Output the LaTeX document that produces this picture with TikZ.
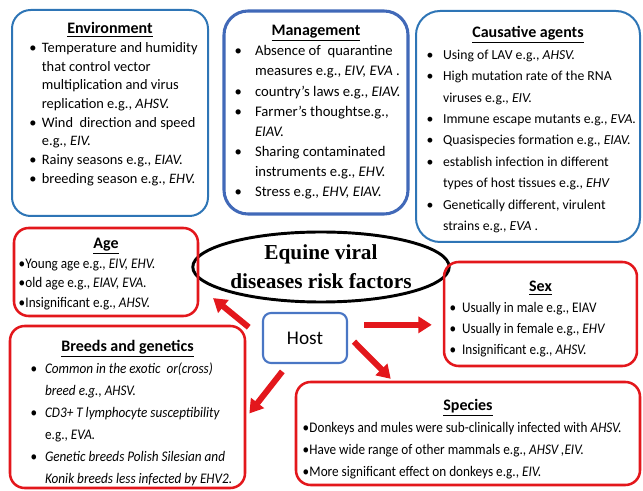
\documentclass[tikz,border=0pt]{standalone}
\usepackage{fontspec}
\setmainfont{Carlito}
\newfontfamily\narrowfont{Carlito}[FakeStretch=0.9]
\newfontfamily\headfont{Liberation Serif}
\usetikzlibrary{shapes.geometric,arrows.meta}

\definecolor{envblue}{HTML}{2E75B6}
\definecolor{mgmtblue}{HTML}{4169B8}
\definecolor{hostblue}{HTML}{4A76C4}
\definecolor{riskred}{HTML}{E3171C}

\newlength\rfind
\newcommand{\rfhead}[2]{\par\noindent\makebox[\linewidth]{\rule{0pt}{#1}\rmfamily\fontsize{12}{14}\selectfont\bfseries\underline{#2}}}
\newcommand{\rfitem}[1]{\par\noindent\mbox{\makebox[\rfind][l]{\textbullet}#1}}
\newcommand{\rfcont}[1]{\par\noindent\mbox{\hspace*{\rfind}#1}}

\begin{document}
\begin{tikzpicture}[x=0.75pt, y=-0.75pt,
                    factor/.style={draw, rounded corners=14pt, line width=1.5pt, inner ysep=0pt},
                    bluebox/.style={factor, draw=envblue},
                    redbox/.style={factor, draw=riskred, line width=1.9pt, rounded corners=11pt},
                    riskarrow/.style={draw=riskred, line width=4.5pt, -{Triangle[length=10pt,width=12pt]}}]

  \useasboundingbox (0,0) rectangle (643,491);

  % top row
  \node[bluebox, inner xsep=13pt] (env) at (110,113)
    {\parbox[c][154.5pt][t]{121pt}{\fontsize{10.8}{14}\selectfont\setlength\rfind{9.4pt}%
      \rfhead{18pt}{Environment}
      \rfitem{Temperature and humidity}
      \rfcont{that control vector}
      \rfcont{multiplication and virus}
      \rfcont{replication e.g., \textit{AHSV.}}
      \rfitem{Wind\ \ direction and speed}
      \rfcont{e.g., \textit{EIV.}}
      \rfitem{Rainy seasons e.g., \textit{EIAV.}}
      \rfitem{breeding season e.g., \textit{EHV.}}}};

  \node[factor, draw=mgmtblue, line width=2.3pt, rounded corners=18pt, inner xsep=7.9pt] (mgmt) at (316,112.5)
    {\parbox[c][152.25pt][t]{122.2pt}{\fontsize{11}{15.1}\selectfont\setlength\rfind{15.4pt}%
      \rfhead{18.5pt}{Management}
      \rfitem{Absence of\ \ quarantine}
      \rfcont{measures e.g., \textit{EIV, EVA} .}
      \rfitem{country’s laws e.g., \textit{EIAV.}}
      \rfitem{Farmer’s thoughtse.g.,}
      \rfcont{\textit{EIAV.}}
      \rfitem{Sharing contaminated}
      \rfcont{instruments e.g., \textit{EHV.}}
      \rfitem{Stress e.g., \textit{EHV, EIAV.}}}};

  \node[bluebox, rounded corners=18pt, inner xsep=7.9pt] (cause) at (528,126.5)
    {\parbox[c][173.25pt][t]{152.2pt}{\fontsize{10.3}{16.1}\selectfont\setlength\rfind{12.4pt}%
      \rfhead{20pt}{Causative agents}
      \rfitem{Using of LAV e.g., \textit{AHSV.}}
      \rfitem{High mutation rate of the RNA}
      \rfcont{viruses e.g., \textit{EIV.}}
      \rfitem{Immune escape mutants e.g., \textit{EVA.}}
      \rfitem{Quasispecies formation e.g., \textit{EIAV.}}
      \rfitem{establish infection in different}
      \rfcont{types of host tissues e.g., \textit{EHV}}
      \rfitem{Genetically different, virulent}
      \rfcont{strains e.g., \textit{EVA} .}}};

  % centre
  \node[ellipse, draw, line width=2.2pt, minimum width=174pt, minimum height=52.5pt, inner sep=0pt,
        align=center, font=\headfont\bfseries\fontsize{16}{22}\selectfont] (title) at (321,267)
    {Equine viral\\diseases risk factors};

  \node[draw=hostblue, line width=1.6pt, rounded corners=6pt, minimum width=63pt, minimum height=37.5pt,
        font=\fontsize{14.5}{16}\selectfont] (host) at (305,338) {Host};

  % host factors
  \node[redbox, inner xsep=3.4pt] (age) at (106,272)
    {\parbox[c][66pt][t]{131.2pt}{\narrowfont\fontsize{11}{14.6}\selectfont\setlength\rfind{5.2pt}%
      \rfhead{15.75pt}{Age}
      \rfitem{Young age e.g., \textit{EIV, EHV.}}
      \rfitem{old age e.g., \textit{EIAV, EVA.}}
      \rfitem{Insignificant e.g., \textit{AHSV.}}}};

  \node[redbox, inner xsep=4.1pt] (sex) at (540.5,314)
    {\parbox[c][78pt][t]{136.5pt}{\narrowfont\fontsize{11}{15.75}\selectfont\setlength\rfind{9.4pt}%
      \rfhead{22.5pt}{Sex}
      \rfitem{Usually in male e.g., EIAV}
      \rfitem{Usually in female e.g., \textit{EHV}}
      \rfitem{Insignificant e.g., \textit{AHSV.}}}};

  \node[redbox, inner xsep=15.4pt] (breeds) at (127.5,407)
    {\parbox[c][121.5pt][t]{145.45pt}{\narrowfont\fontsize{11}{16.5}\selectfont\setlength\rfind{10.9pt}%
      \rfhead{19.5pt}{Breeds and genetics}
      \rfitem{\textit{Common in the exotic\ \ or(cross)}}
      \rfcont{\textit{breed e.g., AHSV.}}
      \rfitem{\textit{CD3+ T lymphocyte susceptibility}}
      \rfcont{e.g., \textit{EVA.}}
      \rfitem{\textit{Genetic breeds Polish Silesian and}}
      \rfcont{\textit{Konik breeds less infected by EHV2.}}}};

  \node[redbox, inner xsep=4.9pt] (species) at (468,433.5)
    {\parbox[c][77.25pt][t]{248.2pt}{\narrowfont\fontsize{11}{16.5}\selectfont\setlength\rfind{5.2pt}%
      \rfhead{21.75pt}{Species}
      \rfitem{Donkeys and mules were sub-clinically infected with \textit{AHSV.}}
      \rfitem{Have wide range of other mammals e.g., \textit{AHSV ,EIV.}}
      \rfitem{More significant effect on donkeys e.g., \textit{EIV.}}}};

  % arrows out of the host
  \draw[riskarrow, shorten <=12.75pt, shorten >=13.4pt] (host.west) -- (age.-9);
  \draw[riskarrow, shorten <=12pt, shorten >=8.25pt] (host.17) -- (host.17 -| sex.west);
  \draw[riskarrow, shorten <=7pt, shorten >=3.75pt] (host.237) -- (breeds.-5);
  \draw[riskarrow, shorten <=6.3pt, shorten >=2pt] (host.3) -- (species.145);

\end{tikzpicture}
\end{document}
